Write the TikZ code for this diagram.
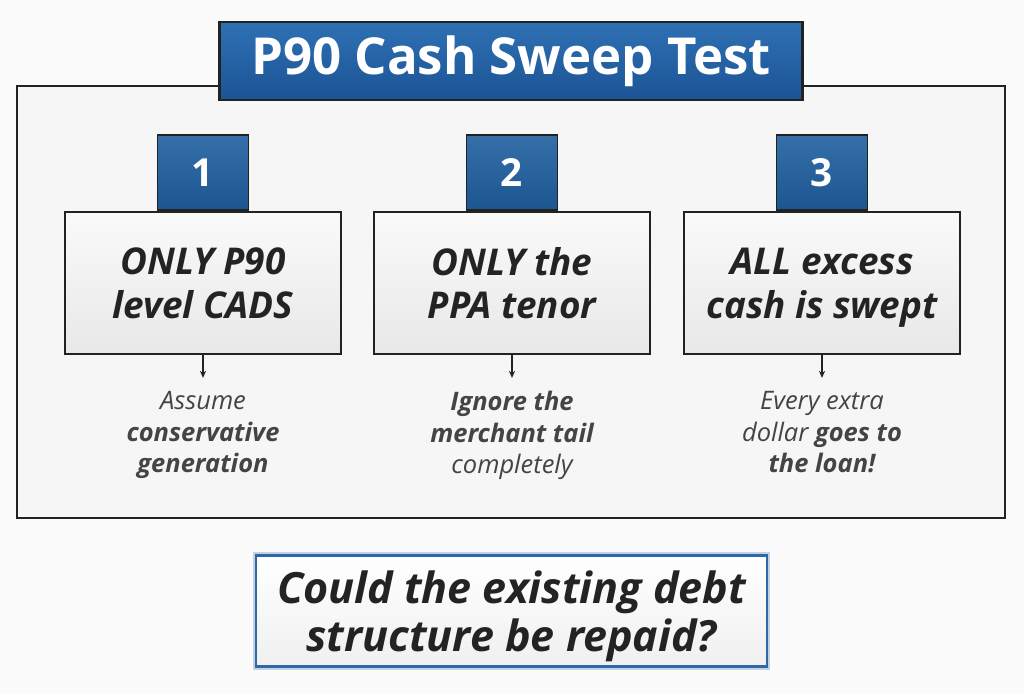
\documentclass[tikz,border=0pt]{standalone}
\usepackage{fontspec}
\setmainfont{Open Sans}
\usetikzlibrary{arrows.meta,positioning}

\definecolor{titleblue}{HTML}{2E70B4}
\definecolor{titledark}{HTML}{1B5494}
\definecolor{numblue}{HTML}{1F5F9F}
\definecolor{edgedark}{HTML}{222222}
\definecolor{textdark}{HTML}{232323}
\definecolor{askblue}{HTML}{2F68A8}

\begin{document}
\begin{tikzpicture}[
        x=0.02cm, y=-0.02cm,
        titlebox/.style={rectangle, draw=edgedark, line width=1.6pt, top color=titleblue, bottom color=titledark,
            minimum width=11.66cm, minimum height=1.56cm, text=white, font=\bfseries\fontsize{29}{32}\selectfont},
        numbox/.style={rectangle, draw=edgedark, line width=1.1pt, top color=numblue!90!white, bottom color=numblue!90!black,
            minimum width=1.82cm, minimum height=1.5cm, text=white, font=\bfseries\fontsize{22}{24}\selectfont},
        stepbox/.style={rectangle, draw=edgedark, line width=1pt, top color=gray!4, bottom color=gray!18,
            minimum width=5.52cm, minimum height=2.84cm, align=center, text=textdark, text depth=0pt,
            font=\bfseries\itshape\fontsize{21}{25}\selectfont},
        note/.style={align=center, text=textdark!85, font=\itshape\fontsize{14.5}{18}\selectfont, inner sep=0pt},
        arrow/.style={-{Stealth[length=4pt,width=3.5pt]}, line width=0.6pt, edgedark},
        askbox/.style={rectangle, draw=askblue, line width=1.4pt, top color=white, bottom color=gray!12,
            minimum width=10.22cm, minimum height=2.22cm, align=center, text=textdark,
            font=\bfseries\itshape\fontsize{24.5}{27.5}\selectfont, text depth=0pt,
            preaction={draw=askblue!30, line width=4pt}}
    ]

    % --- background and frame ---
    \fill[gray!3] (0,0) rectangle (1024,694);
    \useasboundingbox (0,0) rectangle (1024,694);
    \draw[edgedark, line width=1.4pt, fill=gray!7] (17,86) rectangle (1005,518);

    % --- title ---
    \node (title) [titlebox] at (511,61) {P90 Cash Sweep Test};

    % --- three steps ---
    \node (box1) [stepbox] at (203,283) {ONLY P90\\level CADS};
    \node (box2) [stepbox] at (512,283) {ONLY the\\PPA tenor};
    \node (box3) [stepbox] at (822,283) {ALL excess\\cash is swept};

    \node (num1) [numbox, above=0pt of box1] {1};
    \node (num2) [numbox, above=0pt of box2] {2};
    \node (num3) [numbox, above=0pt of box3] {3};

    \node (note1) [note, below=0.72cm of box1] {Assume\\\textbf{conservative}\\\textbf{generation}};
    \node (note2) [note, below=0.72cm of box2] {\textbf{Ignore the}\\\textbf{merchant tail}\\completely};
    \node (note3) [note, below=0.72cm of box3] {Every extra\\dollar \textbf{goes to}\\\textbf{the loan!}};

    \draw[arrow] (box1.south) -- ++(0,23);
    \draw[arrow] (box2.south) -- ++(0,23);
    \draw[arrow] (box3.south) -- ++(0,23);

    % --- question ---
    \node (ask) [askbox] at (511.5,611) {Could the existing debt\\structure be repaid?};

\end{tikzpicture}
\end{document}
